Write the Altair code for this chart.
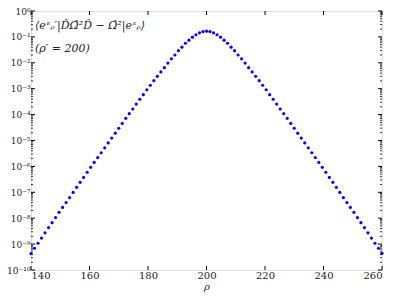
import altair as alt
import pandas as pd

# rho sample positions (step 1.2 between 140 and 260)
rho = [round(140 + 1.2 * i, 1) for i in range(101)]

left_vals = [
    4.3e-10, 6.9e-10, 1.08e-9, 1.71e-9, 2.72e-9, 4.35e-9, 6.7e-9, 1.06e-8, 1.68e-8, 2.6e-8,
    4.02e-8, 6.2e-8, 9.9e-8, 1.55e-7, 2.43e-7, 3.75e-7, 5.94e-7, 9.2e-7, 1.42e-6, 2.19e-6,
    3.37e-6, 5.21e-6, 8.05e-6, 1.24e-5, 1.92e-5, 2.96e-5, 4.57e-5, 7.19e-5, 1.09e-4, 1.64e-4,
    2.54e-4, 3.91e-4, 5.89e-4, 9.08e-4, 1.36e-3, 2.04e-3, 3.01e-3, 4.46e-3, 6.47e-3, 9.75e-3,
    1.42e-2, 2.0e-2, 2.94e-2, 4.02e-2, 5.69e-2, 7.5e-2, 9.75e-2, 0.121, 0.144, 0.160,
]
peak_val = [0.167]
right_vals = [
    0.160, 0.144, 0.121, 9.75e-2, 7.5e-2, 5.69e-2, 4.02e-2, 2.94e-2, 2.0e-2, 1.42e-2,
    9.75e-3, 6.47e-3, 4.46e-3, 3.01e-3, 2.04e-3, 1.36e-3, 9.08e-4, 5.89e-4, 3.91e-4, 2.54e-4,
    1.64e-4, 1.09e-4, 7.19e-5, 4.57e-5, 2.96e-5, 1.92e-5, 1.24e-5, 8.05e-6, 5.21e-6, 3.37e-6,
    2.19e-6, 1.42e-6, 9.2e-7, 5.94e-7, 3.75e-7, 2.43e-7, 1.55e-7, 9.9e-8, 6.2e-8, 4.02e-8,
    2.6e-8, 1.68e-8, 1.06e-8, 6.7e-9, 4.35e-9, 2.72e-9, 1.71e-9, 1.08e-9, 6.9e-10, 4.4e-10,
]
values = left_vals + peak_val + right_vals

x_ticks = [140, 160, 180, 200, 220, 240, 260]
y_major = [1e-10, 1e-9, 1e-8, 1e-7, 1e-6, 1e-5, 1e-4, 1e-3, 1e-2, 1e-1, 1.0]
y_minor = [k * 10.0 ** d for d in range(-10, 0) for k in range(2, 10)]
y_labels = ["10⁰", "10⁻¹", "10⁻²", "10⁻³", "10⁻⁴", "10⁻⁵", "10⁻⁶", "10⁻⁷", "10⁻⁸", "10⁻⁹", "10⁻¹⁰"]

W, H = 351, 259
FONT = "'DejaVu Serif', 'Liberation Serif', serif"

xscale = alt.Scale(domain=[140, 260], nice=False, zero=False)
yscale = alt.Scale(type="log", domain=[1e-10, 1.0], nice=False)

label_expr = "[" + ",".join("'" + s + "'" for s in y_labels) + "][round(-log(datum.value)/LN10)]"

df = pd.DataFrame({"rho": rho, "val": values})

points = alt.Chart(df).mark_circle(size=10, color="#0000ff", opacity=1).encode(
    x=alt.X("rho:Q", scale=xscale,
            axis=alt.Axis(values=x_ticks, title="ρ", titleFontStyle="italic", titleFont=FONT,
                          titleFontSize=10, titleFontWeight="normal", titlePadding=1,
                          titleColor="#222",
                          labelFont=FONT, labelFontSize=10, labelColor="#222",
                          ticks=False, domain=False, grid=False, labelPadding=0)),
    y=alt.Y("val:Q", scale=yscale,
            axis=alt.Axis(values=y_major, labelExpr=label_expr, title=None,
                          labelFont=FONT, labelFontSize=9, labelColor="#222",
                          ticks=False, domain=False, grid=False, labelPadding=1)),
)

xt = pd.DataFrame({"x": x_ticks})
xt_top = alt.Chart(xt).mark_rule(color="black", strokeWidth=1).encode(
    x=alt.X("x:Q", scale=xscale), y=alt.value(0), y2=alt.value(4))
xt_bot = alt.Chart(xt).mark_rule(color="black", strokeWidth=1).encode(
    x=alt.X("x:Q", scale=xscale), y=alt.value(H), y2=alt.value(H - 4))

ym = pd.DataFrame({"y": y_major})
yn = pd.DataFrame({"y": y_minor})
ym_left = alt.Chart(ym).mark_rule(color="black", strokeWidth=1).encode(
    y=alt.Y("y:Q", scale=yscale), x=alt.value(0), x2=alt.value(4))
ym_right = alt.Chart(ym).mark_rule(color="black", strokeWidth=1).encode(
    y=alt.Y("y:Q", scale=yscale), x=alt.value(W), x2=alt.value(W - 4))
yn_left = alt.Chart(yn).mark_rule(color="black", strokeWidth=0.8).encode(
    y=alt.Y("y:Q", scale=yscale), x=alt.value(0), x2=alt.value(2))
yn_right = alt.Chart(yn).mark_rule(color="black", strokeWidth=0.8).encode(
    y=alt.Y("y:Q", scale=yscale), x=alt.value(W), x2=alt.value(W - 2))

ann = pd.DataFrame({"t": ["⟨eᵋᵨ′|D̂Ω̂²D̂ − Ω̂²|eᵋᵨ⟩", "(ρ′ = 200)"], "py": [15, 38]})
text = alt.Chart(ann).mark_text(align="left", baseline="middle", font=FONT, fontSize=11,
                                fontStyle="italic", color="#222").encode(
    x=alt.value(4), y=alt.Y("py:Q", scale=None), text="t:N")

chart = alt.layer(points, xt_top, xt_bot, ym_left, ym_right, yn_left, yn_right, text).properties(
    width=W, height=H,
    padding={"left": 23, "top": 3, "right": 9, "bottom": 23},
    autosize=alt.AutoSizeParams(type="none"),
).configure_view(stroke="black", strokeWidth=1).configure(background="white")

chart.save("out.html", embed_options={"renderer": "svg", "actions": False})
